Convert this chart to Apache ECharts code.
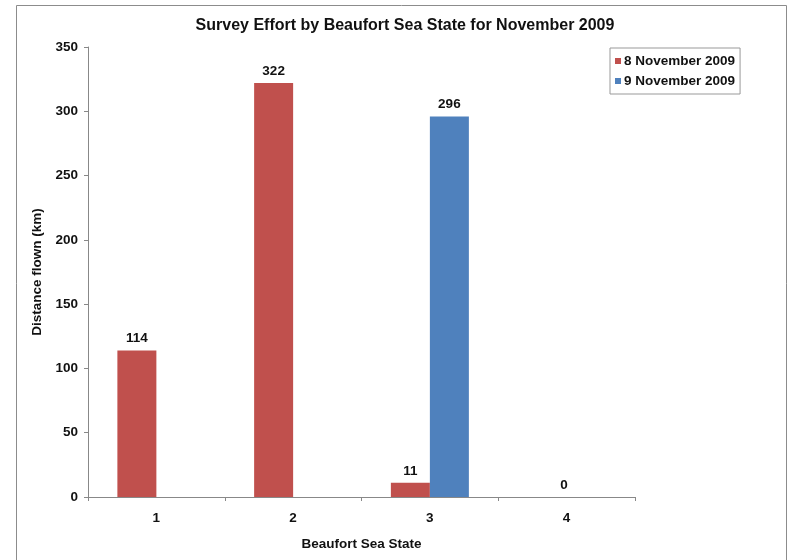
<!DOCTYPE html>
<html>
<head>
<meta charset="utf-8">
<script src="https://cdn.jsdelivr.net/npm/echarts@6/dist/echarts.min.js"></script>
<style>
html,body{margin:0;padding:0;background:#fff;}
#chart{width:795px;height:560px;}
</style>
</head>
<body>
<div id="chart"></div>
<script>
const categories = ['1', '2', '3', '4'];
const nov8 = [114, 322, 11, 0];
const nov9 = [null, null, 296, null];
const yTicks = [0, 50, 100, 150, 200, 250, 300, 350];

const FONT = '"Liberation Sans", Arial, sans-serif';
const FS = 13.5;
const chart = echarts.init(document.getElementById('chart'), null, {renderer: 'canvas'});

const labelStyle = {
  show: true, position: 'top', color: '#111', fontWeight: 'bold',
  fontSize: FS, fontFamily: FONT, distance: 5
};

chart.setOption({
  animation: false,
  backgroundColor: '#fff',
  graphic: [{
    type: 'rect', shape: {x: 16.5, y: 5.5, width: 770, height: 570},
    style: {fill: 'none', stroke: '#8c8c8c', lineWidth: 1}, silent: true, z: -1
  }],
  title: {
    text: 'Survey Effort by Beaufort Sea State for November 2009',
    left: 400, top: 13, textAlign: 'center',
    textStyle: {fontFamily: FONT, fontWeight: 'bold', fontSize: 16, color: '#111'}
  },
  legend: {
    orient: 'vertical', left: 610, top: 48,
    data: ['8 November 2009', '9 November 2009'],
    itemWidth: 6, itemHeight: 6, itemGap: 6, icon: 'rect',
    borderColor: '#999', borderWidth: 1, padding: [6, 5, 6, 5],
    textStyle: {fontFamily: FONT, fontWeight: 'bold', fontSize: FS, color: '#111', padding: [0, 0, 0, -2]}
  },
  grid: {left: 88, right: 160, top: 47, bottom: 63, containLabel: false},
  xAxis: {
    type: 'category', data: categories,
    name: 'Beaufort Sea State', nameLocation: 'middle', nameGap: 40,
    nameTextStyle: {fontFamily: FONT, fontWeight: 'bold', fontSize: FS, color: '#111'},
    axisLine: {lineStyle: {color: '#888'}},
    axisTick: {show: true, alignWithLabel: false, length: 4, lineStyle: {color: '#888'}},
    axisLabel: {fontFamily: FONT, fontWeight: 'bold', fontSize: FS, color: '#111', margin: 14}
  },
  yAxis: {
    type: 'value', min: 0, max: 350, interval: 50,
    name: 'Distance flown (km)', nameLocation: 'middle', nameGap: 41,
    nameTextStyle: {fontFamily: FONT, fontWeight: 'bold', fontSize: FS, color: '#111'},
    axisLine: {show: true, lineStyle: {color: '#888'}},
    axisTick: {show: true, length: 4, lineStyle: {color: '#888'}},
    splitLine: {show: false},
    axisLabel: {fontFamily: FONT, fontWeight: 'bold', fontSize: FS, color: '#111', margin: 10,
      formatter: v => yTicks.includes(v) ? String(v) : ''}
  },
  series: [
    {
      name: '8 November 2009', type: 'bar', barWidth: 39, barGap: '0%',
      itemStyle: {color: '#C0504D'},
      label: labelStyle,
      data: nov8.map((v, i) => i === 3 ? {value: v, label: Object.assign({}, labelStyle, {offset: [17, 0]})} : v)
    },
    {
      name: '9 November 2009', type: 'bar', barWidth: 39, barGap: '0%',
      itemStyle: {color: '#4F81BD'},
      label: labelStyle,
      data: nov9
    }
  ]
});
</script>
</body>
</html>
